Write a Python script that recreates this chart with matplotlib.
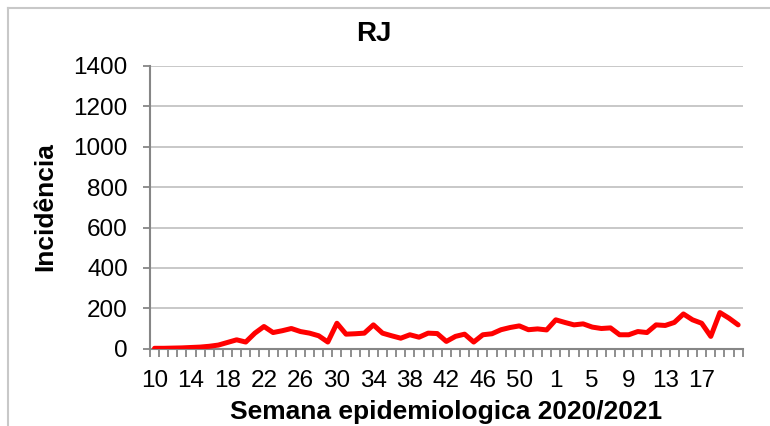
import matplotlib
matplotlib.use("Agg")
import matplotlib.pyplot as plt
from matplotlib.lines import Line2D

plt.rcParams['font.family'] = ['Liberation Sans', 'DejaVu Sans']

# semanas epidemiologicas 2020 (10..53) e 2021 (1..21)
semanas = list(range(10, 54)) + list(range(1, 22))
incidencia = [2, 2, 3, 4, 6, 8, 12, 18, 31, 44, 33, 77, 110, 80, 89, 100, 85, 77, 64, 33, 126,
              72, 74, 77, 118, 77, 64, 52, 69, 57, 77, 75, 36, 61, 72, 33, 69, 74, 94, 105, 113, 94, 98,
              93, 143, 130, 118, 123, 107, 100, 103, 69, 69, 85, 80, 118, 115, 130, 172, 143, 126, 61,
              179, 151, 118]
y_ticks = [0, 200, 400, 600, 800, 1000, 1200, 1400]
titulo = "RJ"
rotulo_x = "Semana epidemiologica 2020/2021"
rotulo_y = "Incidência"

W, H = 770, 426
fig = plt.figure(figsize=(W / 100, H / 100), dpi=100)
ax = fig.add_axes([150 / W, 1 - 348.7 / H, (742.7 - 150) / W, (348.7 - 66) / H])

x = list(range(len(semanas)))
ax.plot(x, incidencia, color='#ff0000', linewidth=3.6, solid_joinstyle='round',
        solid_capstyle='round', zorder=3)

ax.set_xlim(-0.5, len(semanas) - 0.5)
ax.set_ylim(0, 1400)
ax.set_yticks(y_ticks)
ax.yaxis.grid(True, color='#c4c4c4', linewidth=1.3)
ax.set_axisbelow(True)

# rótulos a cada 4 semanas (até a 17)
pos = [i for i in x if i % 4 == 0 and i <= 60]
ax.set_xticks(pos)
ax.set_xticklabels([str(semanas[i]) for i in pos])
ax.set_xticks([i - 0.5 for i in range(len(semanas) + 1)], minor=True)
ax.tick_params(axis='x', which='major', length=0, pad=15, labelsize=17.5)
ax.tick_params(axis='x', which='minor', length=6, width=1.3, color='#868686')
ax.tick_params(axis='y', which='major', length=5, width=1.3, color='#868686', pad=11, labelsize=17.5)

for s in ['top', 'right']:
    ax.spines[s].set_visible(False)
for s in ['left', 'bottom']:
    ax.spines[s].set_color('#868686')
    ax.spines[s].set_linewidth(1.5)

fig.text(374 / W, 1 - 34 / H, titulo, ha='center', va='center', fontsize=20, fontweight='bold')
fig.text(446 / W, 1 - 419 / H, rotulo_x, ha='center', va='baseline', fontsize=19, fontweight='bold')
fig.text(45 / W, 1 - 207 / H, rotulo_y, ha='center', va='center', rotation=90,
         fontsize=19, fontweight='bold')

# moldura da área do gráfico
fig.add_artist(Line2D([8 / W, 1], [1 - 8 / H, 1 - 8 / H], color='#c8c8c8', linewidth=1.5))
fig.add_artist(Line2D([8 / W, 8 / W], [0, 1 - 8 / H], color='#c8c8c8', linewidth=1.5))

fig.savefig("out.png", dpi=100)
